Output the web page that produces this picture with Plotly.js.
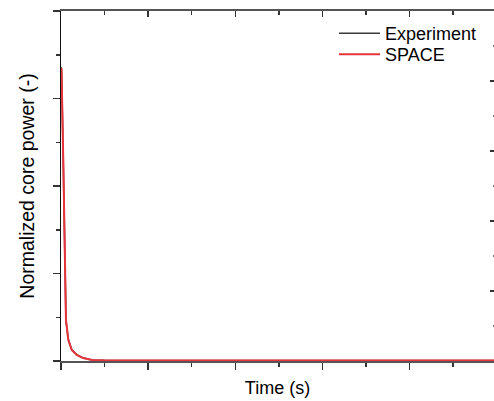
<!DOCTYPE html>
<html>
<head>
<meta charset="utf-8">
<script src="https://cdn.plot.ly/plotly-3.0.1.min.js"></script>
<style>html,body{margin:0;padding:0;background:#fff;}#chart{width:494px;height:401px;}</style>
</head>
<body>
<div id="chart"></div>
<script>
// Time (arbitrary axis units, labels hidden in reference)
const timeExp   = [0, 0.006, 0.026, 0.040, 0.046, 0.057, 0.084, 0.123, 0.180, 0.253, 0.356, 0.5, 1.0, 2.0, 3.0, 4.0, 4.97];
const powerExp  = [3.36, 3.34, 2.28, 1.36, 0.92, 0.46, 0.25, 0.13, 0.072, 0.036, 0.012, 0.008, 0.006, 0.005, 0.005, 0.005, 0.005];
const timeSpace = [0, 0.006, 0.026, 0.040, 0.046, 0.057, 0.084, 0.123, 0.180, 0.253, 0.356, 0.5, 1.0, 2.0, 3.0, 4.0, 4.97];
const powerSpace= [3.35, 3.33, 2.30, 1.38, 0.93, 0.47, 0.24, 0.126, 0.069, 0.034, 0.011, 0.007, 0.006, 0.005, 0.005, 0.005, 0.005];
const seriesNames = ["Experiment", "SPACE"];

const font = "Liberation Sans, Arial, sans-serif";
const data = [
  {x: [null], y: [null], xaxis: "x2", yaxis: "y2", showlegend: false, hoverinfo: "skip", mode: "lines"},
  {x: timeExp, y: powerExp, name: seriesNames[0], mode: "lines", line: {color: "#3a3a3a", width: 1.6}, legend: "legend"},
  {x: timeSpace, y: powerSpace, name: seriesNames[1], mode: "lines", line: {color: "#e8343b", width: 2}, legend: "legend2"}
];
const legendBase = {xanchor: "left", yanchor: "top", bgcolor: "rgba(0,0,0,0)", font: {size: 18, family: font, color: "#000"}, itemwidth: 41};
const layout = {
  width: 494, height: 401,
  margin: {l: 61, r: 0, t: 11, b: 40},
  paper_bgcolor: "#fff", plot_bgcolor: "#fff",
  font: {family: font, color: "#000"},
  showlegend: true,
  legend: Object.assign({x: 0.6305, y: 0.9886}, legendBase),
  legend2: Object.assign({x: 0.6305, y: 0.9286}, legendBase),
  xaxis: {range: [0, 4.97], tick0: 0, dtick: 1, ticks: "outside", ticklen: 7, tickwidth: 1.5, tickcolor: "#333",
    showline: true, linecolor: "#555", linewidth: 2, showgrid: false, zeroline: false, showticklabels: false,
    minor: {dtick: 0.5, ticks: "outside", ticklen: 4, tickwidth: 1.5, tickcolor: "#333", showgrid: false},
    layer: "below traces",
    title: {text: "Time (s)", font: {size: 18, family: font}, standoff: 12}},
  xaxis2: {overlaying: "x", side: "top", anchor: "y", range: [0, 4.97], tick0: 0, dtick: 1, ticks: "inside", ticklen: 6, tickwidth: 1.5, tickcolor: "#333",
    showline: true, linecolor: "#555", linewidth: 2, showgrid: false, zeroline: false, showticklabels: false,
    minor: {dtick: 0.5, ticks: "inside", ticklen: 4, tickwidth: 1.5, tickcolor: "#333", showgrid: false}},
  yaxis: {range: [0, 4], tick0: 0, dtick: 1, ticks: "outside", ticklen: 7, tickwidth: 1.5, tickcolor: "#333",
    showline: true, linecolor: "#111", linewidth: 1.5, showgrid: false, zeroline: false, showticklabels: false,
    minor: {dtick: 0.5, ticks: "outside", ticklen: 4, tickwidth: 1.5, tickcolor: "#333", showgrid: false},
    layer: "below traces",
    title: {text: "Normalized core power (-)", font: {size: 19.5, family: font}, standoff: 12}},
  yaxis2: {overlaying: "y", side: "right", anchor: "x", range: [0, 5], tick0: 0, dtick: 1, ticks: "inside", ticklen: 4, tickwidth: 2, tickcolor: "#333",
    showline: false, showgrid: false, zeroline: false, showticklabels: false,
    minor: {dtick: 0.5, ticks: "inside", ticklen: 1.5, tickwidth: 1.5, tickcolor: "#777", showgrid: false}}
};
Plotly.newPlot("chart", data, layout, {displayModeBar: false, staticPlot: true});
</script>
</body>
</html>
